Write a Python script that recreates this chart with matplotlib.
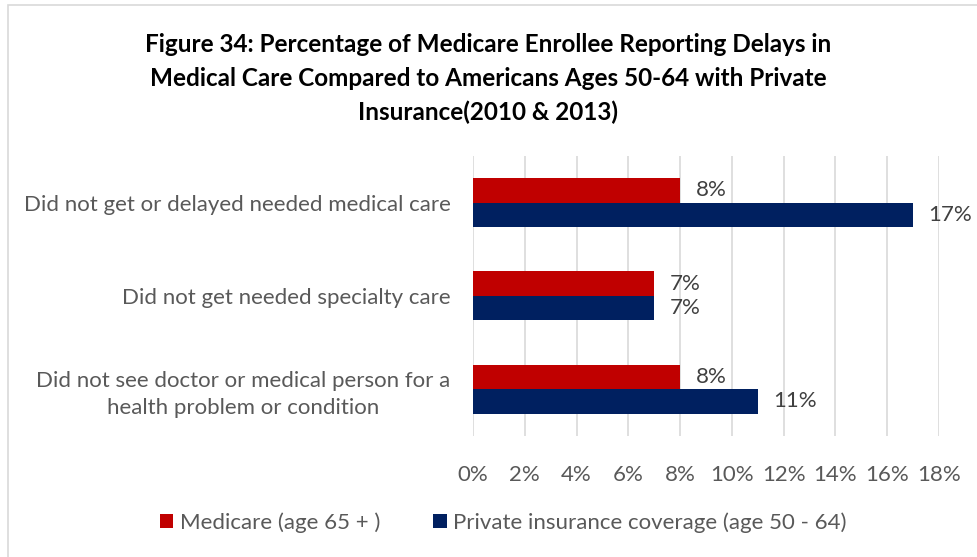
import matplotlib
matplotlib.use("Agg")
import matplotlib.pyplot as plt
import numpy as np
from matplotlib.patches import Rectangle

categories = [
    "Did not get or delayed needed medical care",
    "Did not get needed specialty care",
    "Did not see doctor or medical person for a\nhealth problem or condition",
]
medicare = [8, 7, 8]
private = [17, 7, 11]
series_names = ["Medicare (age 65 + )", "Private insurance coverage (age 50 - 64)"]
xticks = list(range(0, 20, 2))

title = ("Figure 34: Percentage of Medicare Enrollee Reporting Delays in\n"
         "Medical Care Compared to Americans Ages 50-64 with Private\n"
         "Insurance(2010 & 2013)")

red = "#C00000"
navy = "#002060"
label_col = "#595959"
value_col = "#404040"

plt.rcParams["font.family"] = ["Lato", "DejaVu Sans"]

fig = plt.figure(figsize=(9.77, 5.57), dpi=100)
ax = fig.add_axes([0.4841, 0.2178, 0.477, 0.5022])

# chart frame
fig.patches.append(Rectangle((8 / 977, -0.05), 1.2, 1.05 - 5 / 557,
                             transform=fig.transFigure, fill=False,
                             edgecolor="#D9D9D9", linewidth=1.2))

y = np.arange(len(categories))
h = 0.263
ax.barh(y - h / 2, medicare, height=h, color=red, label=series_names[0], zorder=3)
ax.barh(y + h / 2, private, height=h, color=navy, label=series_names[1], zorder=3)

for yi, v in zip(y, medicare):
    ax.text(v + 0.6, yi - h / 2, f"{v}%", va="center", ha="left",
            fontsize=16, color=value_col)
for yi, v in zip(y, private):
    ax.text(v + 0.6, yi + h / 2, f"{v}%", va="center", ha="left",
            fontsize=16, color=value_col)

ax.set_ylim(2.5, -0.5)
ax.set_xlim(0, 18)
ax.set_xticks(xticks)
ax.set_xticklabels([f"{t}%" for t in xticks], fontsize=16, color=label_col)
ax.set_yticks(y)
ax.set_yticklabels(categories, fontsize=16, color=label_col,
                   multialignment="center", linespacing=1.45)
ax.tick_params(axis="both", length=0)
ax.tick_params(axis="y", pad=16)
ax.tick_params(axis="x", pad=21)
ax.grid(axis="x", color="#D9D9D9", linewidth=1.2, zorder=0)
for s in ax.spines.values():
    s.set_visible(False)

fig.text(0.5, 0.94, title, ha="center", va="top", fontsize=17.5,
         fontweight="bold", color="black", linespacing=1.55)

fig.legend(loc="center", bbox_to_anchor=(0.515, 0.062), ncol=2, frameon=False,
           fontsize=16, handlelength=0.6, handleheight=0.6, handletextpad=0.3,
           columnspacing=2.4, labelcolor=label_col)

fig.savefig("out.png", dpi=100)
